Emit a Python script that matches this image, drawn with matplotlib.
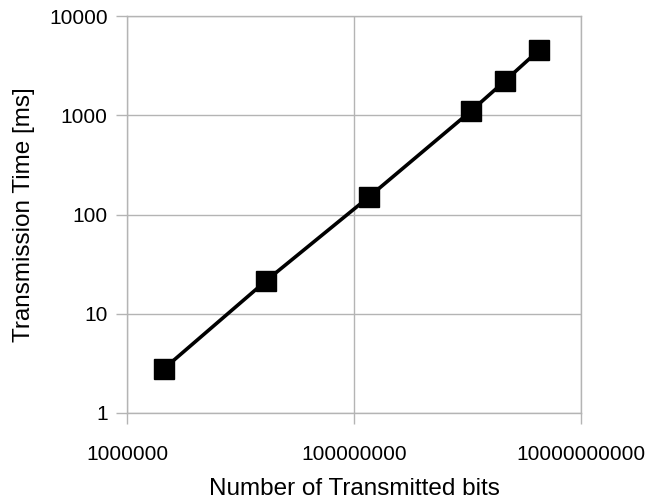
import matplotlib.pyplot as plt
from matplotlib.ticker import FuncFormatter, NullLocator

bits = [2.12e6, 1.68e7, 1.35e8, 1.07e9, 2.14e9, 4.28e9]
time_ms = [2.8, 21.5, 150, 1100, 2220, 4550]
x_ticks = [1e6, 1e8, 1e10]
y_ticks = [1, 10, 100, 1000, 10000]

plt.rcParams['font.family'] = 'Liberation Sans'
grey = '#b4b4b4'

fig = plt.figure(figsize=(6.48, 5.0), dpi=100)
ax = fig.add_axes([127 / 648, 1 - 413 / 500, 454 / 648, 397 / 500])

ax.plot(bits, time_ms, '-s', color='black', linewidth=2.6,
        markersize=14, markerfacecolor='black', zorder=3, clip_on=False)

ax.set_xscale('log')
ax.set_yscale('log')
ax.set_xlim(1e6, 1e10)
ax.set_ylim(1, 10000)
ax.set_xticks(x_ticks)
ax.set_yticks(y_ticks)
ax.xaxis.set_minor_locator(NullLocator())
ax.yaxis.set_minor_locator(NullLocator())
fmt = FuncFormatter(lambda v, p: '%d' % round(v))
ax.xaxis.set_major_formatter(fmt)
ax.yaxis.set_major_formatter(fmt)

ax.grid(True, color=grey, linewidth=1.0)
ax.set_axisbelow(True)
for s in ax.spines.values():
    s.set_color(grey)
    s.set_linewidth(1.0)
ax.tick_params(colors=grey, labelcolor='black', length=8, width=1.0,
               labelsize=15, pad=6)
ax.tick_params(axis='x', pad=15)

ax.set_xlabel('Number of Transmitted bits', fontsize=17.5, labelpad=10)
ax.set_ylabel('Transmission Time [ms]', fontsize=17.5, labelpad=10)

fig.savefig('out.png', dpi=100)
